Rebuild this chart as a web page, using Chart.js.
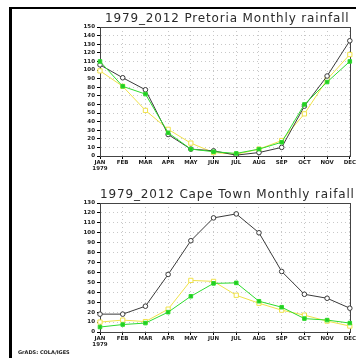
<!DOCTYPE html>
<html>
<head>
<meta charset="utf-8">
<script src="https://cdn.jsdelivr.net/npm/chart.js@4"></script>
<style>
  html, body { margin: 0; padding: 0; background: #fff; }
  body { width: 356px; height: 358px; position: relative; overflow: hidden; }
  .frame { position: absolute; left: 9px; top: 7px; right: -5px; bottom: -5px;
           border-left: 3px solid #000; border-top: 2px solid #000; }
  .box { position: absolute; left: 0; width: 356px; height: 175px; }
  .title { position: absolute; white-space: nowrap; font-family: "DejaVu Sans", sans-serif;
           font-size: 12px; letter-spacing: 0.85px; color: #2a2a2a; }
  .credit { position: absolute; left: 18px; top: 349px; font-family: "DejaVu Sans", sans-serif;
            font-size: 5px; font-weight: bold; color: #222; white-space: nowrap; }
</style>
</head>
<body>
<div class="frame"></div>
<div class="box" style="top:0"><canvas id="pretoria" width="356" height="175"></canvas></div>
<div class="box" style="top:176px"><canvas id="capetown" width="356" height="175"></canvas></div>
<div class="title" style="left:105px; top:11px">1979_2012 Pretoria Monthly rainfall</div>
<div class="title" style="left:100px; top:187px">1979_2012 Cape Town Monthly raifall</div>
<div class="credit">GrADS: COLA/IGES</div>
<script>
const months = [['JAN', '1979'], 'FEB', 'MAR', 'APR', 'MAY', 'JUN', 'JUL', 'AUG', 'SEP', 'OCT', 'NOV', 'DEC'];

// Pretoria
const pretoriaBlack  = [106, 91, 77, 25, 8, 6, 1, 4, 10, 58, 93, 134];
const pretoriaGreen  = [110, 81, 72, 27, 8, 5, 3, 8, 16, 60, 86, 110];
const pretoriaYellow = [99, 81, 53, 31, 15, 4, 2, 8, 18, 49, 89, 118];

// Cape Town
const capeBlack  = [18, 18, 26, 58, 92, 115, 119, 100, 61, 38, 34, 24];
const capeGreen  = [5, 7.5, 9, 20, 36, 49, 49.5, 31, 25, 13.5, 12, 9];
const capeYellow = [10, 12, 10.5, 23, 52, 51, 37, 29, 22, 17, 11, 6];

// box around the plot area, like the GrADS frame
const framePlugin = {
    id: 'plotFrame',
    beforeDatasetsDraw(chart) {
        const a = chart.chartArea;
        const c = chart.ctx;
        c.save();
        c.strokeStyle = '#444';
        c.lineWidth = 1;
        c.setLineDash([]);
        c.strokeRect(Math.round(a.left) + 0.5, Math.round(a.top) + 0.5,
                     Math.round(a.right - a.left), Math.round(a.bottom - a.top));
        c.restore();
    }
};

function makeChart(id, black, green, yellow, yMax) {
    const tickFont = { family: 'DejaVu Sans', size: 5.5, weight: 'bold' };
    const grid = { color: '#c8c8c8', tickLength: 3, tickColor: '#000', tickBorderDash: [] };
    const border = { display: true, color: '#444', width: 1, dash: [1, 3] };
    return new Chart(document.getElementById(id), {
        type: 'line',
        data: {
            labels: months,
            datasets: [{
                data: green,
                borderColor: '#2edb2e',
                backgroundColor: '#22cc22',
                borderWidth: 1,
                pointStyle: 'rect',
                pointRadius: 2.5,
                pointBorderWidth: 1,
                tension: 0
            }, {
                data: black,
                borderColor: '#3a3a3a',
                backgroundColor: '#fff',
                borderWidth: 1,
                pointStyle: 'circle',
                pointRadius: 2.3,
                pointBorderWidth: 1,
                tension: 0
            }, {
                data: yellow,
                borderColor: '#f0e24a',
                backgroundColor: '#fff',
                borderWidth: 1,
                pointStyle: 'rect',
                pointRadius: 3,
                pointBorderWidth: 1,
                tension: 0
            }]
        },
        options: {
            responsive: false,
            animation: false,
            events: [],
            layout: { autoPadding: false, padding: { left: 0, right: 3, top: 27, bottom: 0 } },
            plugins: { legend: { display: false }, tooltip: { enabled: false } },
            scales: {
                x: {
                    offset: false,
                    afterFit(scale) { scale.height = 19; },
                    grid: grid,
                    border: border,
                    ticks: { color: '#222', font: tickFont, padding: 0, maxRotation: 0, autoSkip: false }
                },
                y: {
                    min: 0,
                    max: yMax,
                    afterFit(scale) { scale.width = 100; },
                    grid: grid,
                    border: border,
                    ticks: { stepSize: 10, autoSkip: false, color: '#222', font: tickFont, padding: 2 }
                }
            }
        },
        plugins: [framePlugin]
    });
}

makeChart('pretoria', pretoriaBlack, pretoriaGreen, pretoriaYellow, 150);
makeChart('capetown', capeBlack, capeGreen, capeYellow, 130);
</script>
</body>
</html>
